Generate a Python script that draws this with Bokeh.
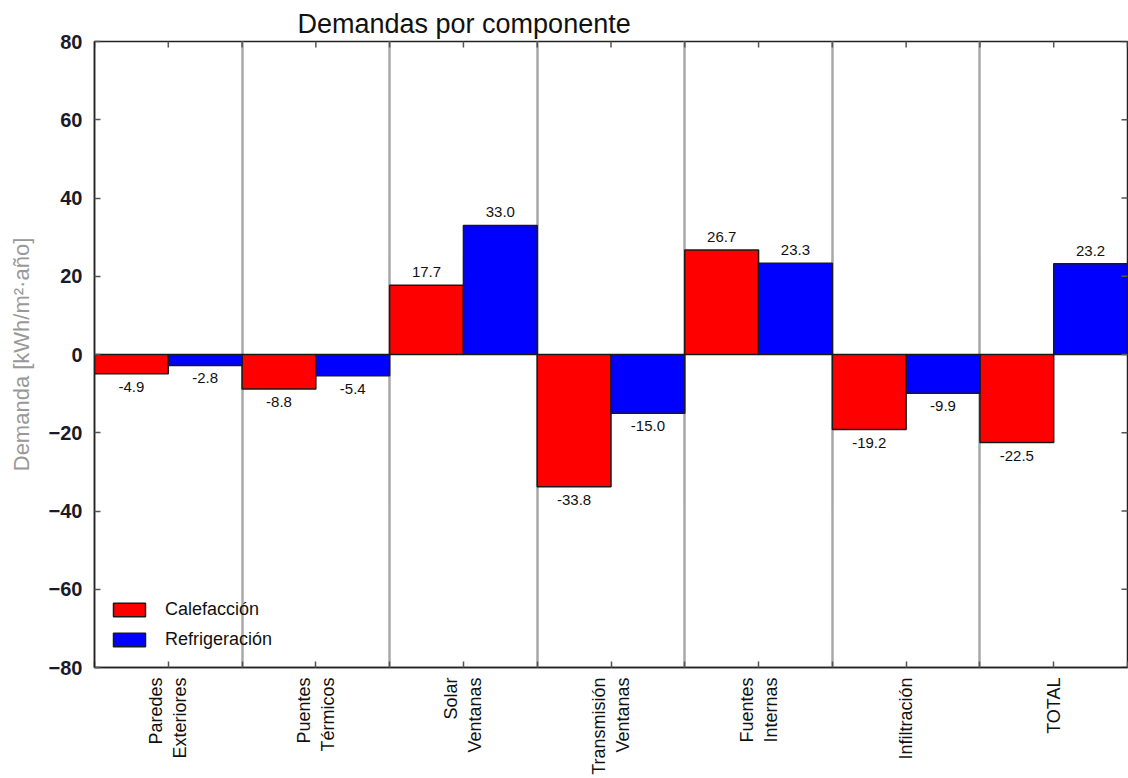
import math
from bokeh.plotting import figure
from bokeh.models import (FixedTicker, Range1d, ColumnDataSource,
                          Legend, LegendItem)
from bokeh.embed import file_html
from bokeh.resources import INLINE
from bokeh.core.properties import value

# ---- data ----
categories = ["Paredes\nExteriores", "Puentes\nTérmicos", "Solar\nVentanas",
              "Transmisión\nVentanas", "Fuentes\nInternas", "Infiltración", "TOTAL"]
calefaccion = [-4.9, -8.8, 17.7, -33.8, 26.7, -19.2, -22.5]
refrigeracion = [-2.8, -5.4, 33.0, -15.0, 23.3, -9.9, 23.2]
y_ticks = [-80, -60, -40, -20, 0, 20, 40, 60, 80]
series_names = ["Calefacción", "Refrigeración"]
series_colors = ["#ff0000", "#0000ff"]

FONT = "Liberation Sans"
n = len(categories)
idx = list(range(n))
bw = 0.5
x_lo, x_hi = -0.5, n - 0.5
y_lo, y_hi = y_ticks[0], y_ticks[-1]

p = figure(width=1128, height=778, output_backend="svg", toolbar_location=None,
           x_range=Range1d(x_lo, x_hi), y_range=Range1d(y_lo, y_hi),
           min_border_left=94, min_border_right=1, min_border_top=41,
           min_border_bottom=111)

p.title.text = "Demandas por componente"
p.title.text_font = FONT
p.title.text_font_size = "27px"
p.title.text_font_style = "normal"
p.title.text_color = "#111111"
p.title.align = "left"
p.title.offset = 203
p.title.standoff = 6

p.outline_line_color = "#222222"
p.outline_line_width = 1.5

# grid (group separators)
p.ygrid.visible = False
p.xgrid.ticker = FixedTicker(ticks=[i + 0.5 for i in idx[:-1]])
p.xgrid.grid_line_color = "#a8a8a8"
p.xgrid.grid_line_width = 2.5

renderers = []
for k, vals in enumerate([calefaccion, refrigeracion]):
    xs = [i + (k - 0.5) * bw for i in idx]
    src = ColumnDataSource(dict(x=xs, top=vals,
                                lbl=[f"{v:.1f}" for v in vals],
                                base=["bottom" if v >= 0 else "top" for v in vals],
                                off=[-8 if v >= 0 else 8 for v in vals]))
    r = p.vbar(x="x", top="top", bottom=0, width=bw, source=src,
               fill_color=series_colors[k], line_color="#1a1a1a", line_width=1.5)
    renderers.append(r)
    p.text(x="x", y="top", text="lbl", source=src, text_align="center",
           text_baseline="base", y_offset="off", text_font=value(FONT),
           text_font_size="15px", text_color="#111111")

# inward tick marks on top and right edges (half clipped by the frame)
top_ticks = [i * 0.5 + x_lo for i in range(2 * n + 1)]
p.scatter(x=top_ticks, y=[y_hi] * len(top_ticks), marker="dash", size=12,
          angle=math.pi / 2, line_color="#555555", line_width=1.5)
p.scatter(x=[x_hi] * len(y_ticks), y=y_ticks, marker="dash", size=12,
          line_color="#555555", line_width=1.5)

# axes
xt = FixedTicker(ticks=idx, minor_ticks=[i - 0.5 for i in idx] + [x_hi])
yt = FixedTicker(ticks=y_ticks)

xa = p.xaxis[0]
xa.ticker = xt
xa.major_label_overrides = {i: c for i, c in enumerate(categories)}
xa.major_label_orientation = math.pi / 2
xa.major_label_text_font = FONT
xa.major_label_text_font_size = "18px"
xa.major_label_text_color = "#111111"
xa.major_label_text_align = "center"
xa.major_label_standoff = 10

ya = p.yaxis[0]
ya.ticker = yt
ya.major_label_text_font = FONT
ya.major_label_text_font_size = "20px"
ya.major_label_text_font_style = "bold"
ya.major_label_text_color = "#1a1a2a"
ya.major_label_overrides = {t: (str(t) if t >= 0 else "\u2212" + str(-t)) for t in y_ticks}
ya.major_label_standoff = 12
ya.axis_label = "Demanda [kWh/m²·año]"
ya.axis_label_text_font = FONT
ya.axis_label_text_font_size = "22px"
ya.axis_label_text_font_style = "normal"
ya.axis_label_text_color = "#999999"
ya.axis_label_standoff = 12

for ax in [xa, ya]:
    ax.axis_line_color = "#222222"
    ax.axis_line_width = 1.5
    ax.major_tick_in = 6
    ax.major_tick_out = 0
    ax.minor_tick_in = 6
    ax.minor_tick_out = 0
    ax.major_tick_line_color = "#555555"
    ax.minor_tick_line_color = "#555555"
    ax.major_tick_line_width = 1.5
    ax.minor_tick_line_width = 1.5

legend = Legend(items=[LegendItem(label=series_names[k], renderers=[renderers[k]])
                       for k in range(2)],
                location=(15, 17), border_line_color=None,
                background_fill_alpha=0, glyph_width=40, glyph_height=17,
                label_text_font=FONT, label_text_font_size="18px",
                label_text_color="#111111", label_standoff=16, spacing=9,
                padding=0, margin=0)
p.add_layout(legend)

open("out.html", "w").write(file_html(p, INLINE))
